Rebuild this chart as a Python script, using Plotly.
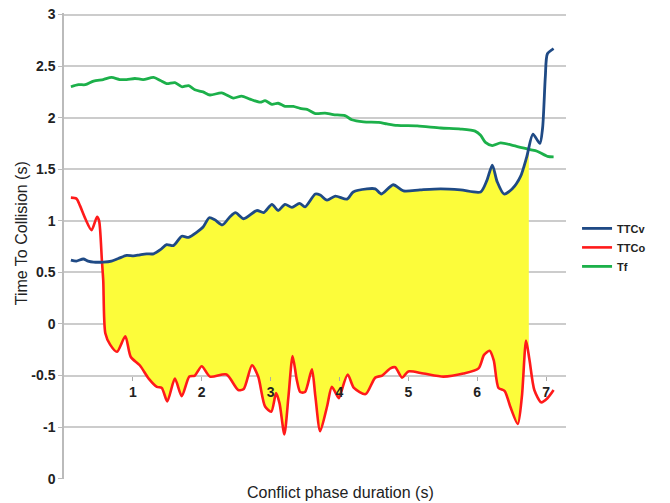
import numpy as np
import plotly.graph_objects as go

# ---- data ----
ttcv_x = [0.10, 0.18, 0.28, 0.35, 0.43, 0.57, 0.69, 0.79, 0.91, 1.01, 1.10, 1.20, 1.30, 1.40,
          1.49, 1.59, 1.71, 1.81, 1.93, 2.02, 2.11, 2.19, 2.30, 2.41, 2.49, 2.61, 2.80, 2.90,
          3.02, 3.11, 3.21, 3.31, 3.42, 3.50, 3.65, 3.72, 3.82, 3.94, 4.11, 4.20, 4.40, 4.52,
          4.61, 4.78, 4.93, 5.17, 5.47, 5.76, 6.05, 6.14, 6.22, 6.29, 6.39, 6.51, 6.63, 6.72,
          6.81, 6.91, 6.95, 6.99, 7.02, 7.11]
ttcv_y = [0.62, 0.61, 0.63, 0.61, 0.60, 0.60, 0.61, 0.635, 0.665, 0.66, 0.67, 0.68, 0.68, 0.72,
          0.77, 0.76, 0.85, 0.84, 0.89, 0.94, 1.03, 1.01, 0.96, 1.04, 1.08, 1.02, 1.10, 1.08,
          1.16, 1.10, 1.16, 1.13, 1.17, 1.135, 1.26, 1.25, 1.20, 1.24, 1.21, 1.28, 1.31, 1.31,
          1.26, 1.35, 1.29, 1.30, 1.31, 1.30, 1.28, 1.39, 1.54, 1.38, 1.26, 1.31, 1.43, 1.62,
          1.84, 1.75, 1.90, 2.40, 2.62, 2.67]

ttco_x = [0.10, 0.18, 0.23, 0.31, 0.40, 0.48, 0.51, 0.55, 0.57, 0.60, 0.67, 0.77, 0.89, 0.97,
          1.10, 1.23, 1.35, 1.42, 1.50, 1.61, 1.71, 1.82, 1.90, 2.00, 2.12, 2.36, 2.53, 2.61,
          2.73, 2.82, 2.92, 3.01, 3.08, 3.13, 3.20, 3.26, 3.32, 3.38, 3.43, 3.50, 3.60, 3.65,
          3.72, 3.82, 3.89, 3.99, 4.02, 4.12, 4.21, 4.38, 4.52, 4.62, 4.74, 4.81, 4.91, 5.00,
          5.22, 5.51, 5.80, 6.02, 6.10, 6.18, 6.24, 6.31, 6.40, 6.48, 6.59, 6.65, 6.71, 6.76,
          6.83, 6.93, 7.02, 7.11]
ttco_y = [1.225, 1.215, 1.15, 1.02, 0.91, 1.04, 1.00, 0.62, 0.42, -0.09, -0.20, -0.27, -0.12, -0.32,
          -0.40, -0.53, -0.61, -0.62, -0.75, -0.53, -0.70, -0.51, -0.50, -0.41, -0.51, -0.49, -0.64, -0.63,
          -0.40, -0.51, -0.80, -0.85, -0.67, -0.77, -1.07, -0.70, -0.31, -0.54, -0.66, -0.66, -0.44, -0.70,
          -1.04, -0.80, -0.61, -0.72, -0.67, -0.49, -0.62, -0.68, -0.52, -0.50, -0.43, -0.42, -0.52, -0.46,
          -0.48, -0.51, -0.48, -0.43, -0.30, -0.26, -0.35, -0.62, -0.65, -0.80, -0.97, -0.70, -0.16, -0.35,
          -0.64, -0.76, -0.72, -0.64]

tf_x = [0.10, 0.21, 0.31, 0.43, 0.57, 0.69, 0.81, 0.91, 1.03, 1.15, 1.30, 1.40, 1.49, 1.61,
        1.71, 1.81, 1.90, 2.02, 2.12, 2.29, 2.46, 2.58, 2.70, 2.85, 2.92, 3.02, 3.11, 3.21,
        3.33, 3.43, 3.53, 3.65, 3.79, 3.91, 4.08, 4.18, 4.35, 4.57, 4.69, 4.84, 5.13, 5.47,
        5.76, 5.97, 6.05, 6.12, 6.22, 6.34, 6.53, 6.77, 6.87, 7.02, 7.11]
tf_y = [2.30, 2.32, 2.32, 2.355, 2.37, 2.39, 2.37, 2.37, 2.38, 2.37, 2.39, 2.36, 2.33, 2.34,
        2.30, 2.31, 2.27, 2.25, 2.22, 2.24, 2.19, 2.21, 2.18, 2.15, 2.165, 2.13, 2.14, 2.11,
        2.11, 2.09, 2.08, 2.04, 2.045, 2.03, 2.02, 1.98, 1.96, 1.955, 1.94, 1.925, 1.92, 1.90,
        1.89, 1.87, 1.83, 1.76, 1.73, 1.755, 1.73, 1.69, 1.675, 1.625, 1.62]

y_tickvals = [3, 2.5, 2, 1.5, 1, 0.5, 0, -0.5, -1, -1.5]
y_ticktext = ["3", "2.5", "2", "1.5", "1", "0.5", "0", "-0.5", "-1", "0"]
x_tickvals = [1, 2, 3, 4, 5, 6, 7]

Y_MIN, Y_MAX = -1.503, 3.015
X_AXIS_AT = -0.5
FILL_START = 0.555
FILL_END = 6.75

BLUE = "#1f4a85"
RED = "#ff1a1a"
GREEN = "#1cb04a"
YELLOW = "#fcfc3a"
FONT = "Liberation Sans"


def clip_series(xs, ys, a, b):
    xs = np.asarray(xs, float)
    ys = np.asarray(ys, float)
    m = (xs > a) & (xs < b)
    cx = np.concatenate([[a], xs[m], [b]])
    cy = np.concatenate([[np.interp(a, xs, ys)], ys[m], [np.interp(b, xs, ys)]])
    return cx, cy


rx, ry = clip_series(ttco_x, ttco_y, FILL_START, FILL_END)
bx, by = clip_series(ttcv_x, ttcv_y, FILL_START, FILL_END)

fig = go.Figure()
fig.add_trace(go.Scatter(x=rx, y=ry, mode="lines", line=dict(width=0, shape="spline", smoothing=0.7),
                         showlegend=False, hoverinfo="skip"))
fig.add_trace(go.Scatter(x=bx, y=by, mode="lines", line=dict(width=0, shape="spline", smoothing=0.7),
                         fill="tonexty", fillcolor=YELLOW, showlegend=False, hoverinfo="skip"))

fig.add_trace(go.Scatter(x=tf_x, y=tf_y, name="Tf", mode="lines", legendrank=3,
                         line=dict(color=GREEN, width=2.8, shape="spline", smoothing=0.7)))
fig.add_trace(go.Scatter(x=ttco_x, y=ttco_y, name="TTCo", mode="lines", legendrank=2,
                         line=dict(color=RED, width=2.6, shape="spline", smoothing=0.7)))
fig.add_trace(go.Scatter(x=ttcv_x, y=ttcv_y, name="TTCv", mode="lines", legendrank=1,
                         line=dict(color=BLUE, width=2.8, shape="spline", smoothing=0.7)))

fig.update_layout(
    width=670, height=503,
    margin=dict(l=64, r=104, t=13, b=24, autoexpand=False),
    paper_bgcolor="white", plot_bgcolor="white",
    font=dict(family=FONT, color="#222222"),
    legend=dict(x=1.022, y=0.497, xanchor="left", yanchor="middle", traceorder="normal",
                font=dict(size=11, family=FONT, color="#222222", weight="bold"),
                bgcolor="rgba(0,0,0,0)", tracegroupgap=0, itemwidth=30),
    xaxis=dict(range=[0, 7.29], anchor="free",
               position=(X_AXIS_AT - Y_MIN) / (Y_MAX - Y_MIN), showgrid=False,
               automargin=False,
               zeroline=False, showline=False, ticks="outside", ticklen=4,
               tickcolor="#aaaaaa", tickwidth=1.2, tickvals=x_tickvals,
               tickfont=dict(size=14, family=FONT, color="#222222", weight="bold")),
    yaxis=dict(range=[Y_MIN, Y_MAX], tickvals=y_tickvals, ticktext=y_ticktext,
               automargin=False, ticklabeloverflow="allow",
               showgrid=True, gridcolor="#cccccc", gridwidth=1.5, zeroline=False,
               showline=True, linecolor="#bbbbbb", linewidth=1.5,
               ticks="outside", ticklen=4, tickcolor="#bbbbbb", tickwidth=1.2,
               tickfont=dict(size=14, family=FONT, color="#222222", weight="bold")),
    annotations=[
        dict(text="Conflict phase duration (s)", xref="paper", yref="paper",
             x=0.55, y=-0.03, xanchor="center", yanchor="middle", showarrow=False,
             font=dict(size=16, family=FONT, color="#222222")),
        dict(text="Time To Collision (s)", xref="paper", yref="paper",
             x=-0.084, y=0.527, xanchor="center", yanchor="middle", showarrow=False,
             textangle=-90, font=dict(size=16, family=FONT, color="#222222")),
    ],
)

# remove the default 8px page margin so the figure sits at the window's corner
fig.write_html("out.html", config={"displayModeBar": False},
               post_script="document.body.style.margin='0';")
